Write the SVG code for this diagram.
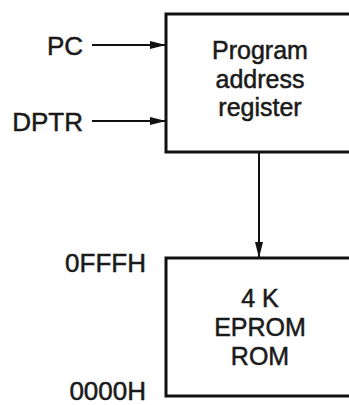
<svg xmlns="http://www.w3.org/2000/svg" width="349" height="405" viewBox="0 0 349 405">
<style>
text{font-family:"Liberation Sans",Arial,sans-serif;font-size:25px;fill:#1a1a1a;stroke:#1a1a1a;stroke-width:0.5}
.lbl{text-anchor:end;font-size:26px}
.c{text-anchor:middle}
.box{fill:#fff;stroke:#111;stroke-width:3}
.ln{stroke:#111;stroke-width:2;fill:none}
</style>
<defs>
<marker id="ah" markerWidth="16" markerHeight="9" refX="15" refY="4.5" orient="auto" markerUnits="userSpaceOnUse">
<path d="M0,0.5 L16,4.5 L0,8.5 Z" fill="#111"/>
</marker>
</defs>
<rect width="349" height="405" fill="#fff"/>
<g id="reg">
<rect class="box" x="166" y="14" width="190" height="138"/>
<text class="c" x="260" y="59">Program</text>
<text class="c" x="260" y="88">address</text>
<text class="c" x="260" y="116">register</text>
</g>
<g id="rom">
<rect class="box" x="166" y="258" width="190" height="138"/>
<text class="c" x="260" y="307">4 K</text>
<text class="c" x="260" y="336">EPROM</text>
<text class="c" x="260" y="365">ROM</text>
</g>
<g id="labels">
<text class="lbl" x="83" y="55">PC</text>
<text class="lbl" x="83" y="131">DPTR</text>
<text class="lbl" x="146" y="272">0FFFH</text>
<text class="lbl" x="146" y="400">0000H</text>
</g>
<g id="connectors">
<line class="ln" x1="92" y1="45" x2="165" y2="45" marker-end="url(#ah)"/>
<line class="ln" x1="92" y1="121" x2="165" y2="121" marker-end="url(#ah)"/>
<line class="ln" x1="259" y1="152" x2="259" y2="257" marker-end="url(#ah)"/>
</g>
</svg>
